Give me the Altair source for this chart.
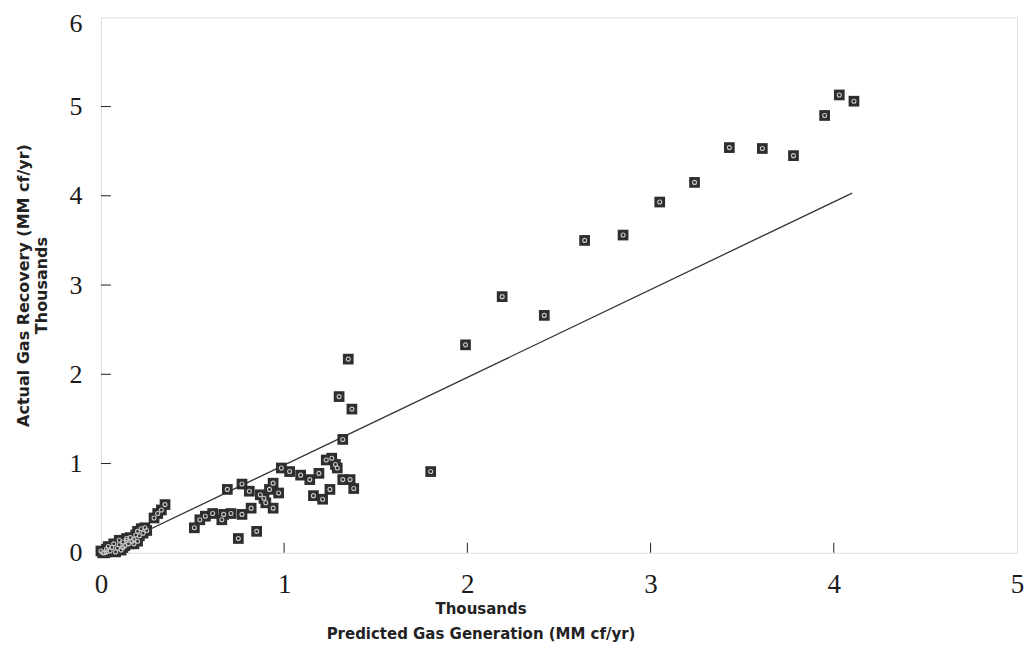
import altair as alt
import pandas as pd

# Predicted gas generation (thousands MM cf/yr) vs actual gas recovery (thousands MM cf/yr)
pred = [
    0.00, 0.02, 0.03, 0.05, 0.06, 0.08, 0.09, 0.10, 0.11, 0.12, 0.13, 0.14, 0.15,
    0.16, 0.17, 0.18, 0.19, 0.20, 0.21, 0.22, 0.23, 0.24, 0.25, 0.04, 0.07, 0.10,
    0.12, 0.14, 0.18, 0.20, 0.01, 0.03,
    0.29, 0.31, 0.33, 0.35,
    0.51, 0.54, 0.57, 0.61, 0.66, 0.67, 0.71, 0.77, 0.82, 0.90, 0.94,
    0.75, 0.85,
    0.69, 0.77, 0.81, 0.87, 0.89, 0.92, 0.94, 0.97,
    0.985, 1.03, 1.09, 1.14, 1.19, 1.23, 1.16, 1.21,
    1.25, 1.26, 1.28, 1.29, 1.32, 1.36, 1.38, 1.32, 1.30, 1.37, 1.35,
    1.80, 1.99, 2.19, 2.42, 2.64, 2.85, 3.05, 3.24, 3.43, 3.61, 3.78, 3.95, 4.03, 4.11,
]
actual = [
    0.02, 0.00, 0.04, 0.02, 0.06, 0.01, 0.05, 0.09, 0.03, 0.12, 0.08, 0.14, 0.10,
    0.17, 0.13, 0.15, 0.20, 0.24, 0.19, 0.27, 0.22, 0.28, 0.25, 0.07, 0.10, 0.14,
    0.06, 0.16, 0.10, 0.13, 0.00, 0.01,
    0.39, 0.44, 0.48, 0.54,
    0.28, 0.37, 0.41, 0.44, 0.37, 0.43, 0.44, 0.43, 0.50, 0.56, 0.50,
    0.16, 0.24,
    0.71, 0.77, 0.69, 0.65, 0.61, 0.71, 0.78, 0.67,
    0.95, 0.91, 0.87, 0.82, 0.89, 1.04, 0.64, 0.60,
    0.71, 1.06, 0.99, 0.95, 0.82, 0.82, 0.72, 1.27, 1.75, 1.61, 2.17,
    0.91, 2.33, 2.87, 2.66, 3.50, 3.56, 3.93, 4.15, 4.54, 4.53, 4.45, 4.90, 5.13, 5.06,
]

fit_x = [0.0, 4.10]
fit_y = [0.0, 4.03]

x_ticks = [0, 1, 2, 3, 4, 5]
y_ticks = [0, 1, 2, 3, 4, 5, 6]
x_inner_ticks = [1, 2, 3, 4]
y_inner_ticks = [1, 2, 3, 4, 5]

W, H = 917, 536

df = pd.DataFrame({"pred": pred, "actual": actual})
fit = pd.DataFrame({"pred": fit_x, "actual": fit_y})
xt = pd.DataFrame({"pred": x_inner_ticks})
yt = pd.DataFrame({"actual": y_inner_ticks})

xs = alt.Scale(domain=[0, 5], nice=False, zero=False)
ys = alt.Scale(domain=[0, 6], nice=False, zero=False)

xaxis = alt.Axis(
    values=x_ticks, ticks=False, domain=False, grid=False,
    labelFont="Liberation Serif", labelFontSize=27, labelColor="#1a1a1a",
    labelPadding=19, labelFlush=False,
    title=["Thousands", "Predicted Gas Generation (MM cf/yr)"],
    titleFont="DejaVu Sans", titleFontSize=15, titleFontWeight="bold",
    titleColor="#222222", titleX=380, titleAlign="center", titlePadding=4,
    titleLineHeight=25,
)
yaxis = alt.Axis(
    values=y_ticks, ticks=False, domain=False, grid=False,
    labelFont="Liberation Serif", labelFontSize=26, labelColor="#1a1a1a",
    labelPadding=19, labelFlush=False,
    labelOffset={"condition": {"test": "datum.value == 6", "value": 6}, "value": 0},
    title=["Actual Gas Recovery (MM cf/yr)", "Thousands"],
    titleFont="DejaVu Sans", titleFontSize=16, titleFontWeight="bold",
    titleColor="#222222", titlePadding=19, titleLineHeight=18,
)

X = alt.X("pred:Q", scale=xs, axis=xaxis)
Y = alt.Y("actual:Q", scale=ys, axis=yaxis)

squares = alt.Chart(df).mark_point(
    shape="square", filled=True, color="#2e2e2e", size=115, opacity=1
).encode(x=X, y=Y)
rings = alt.Chart(df).mark_point(
    shape="circle", filled=False, color="#c8c8c8", size=16, strokeWidth=1.1, opacity=1
).encode(x=X, y=Y)

line = alt.Chart(fit).mark_line(color="#333333", strokeWidth=1.3).encode(x=X, y=Y)

xtick_rules = alt.Chart(xt).mark_rule(color="#222", strokeWidth=1).encode(
    x=X, y=alt.value(H), y2=alt.value(H - 10)
)
ytick_rules = alt.Chart(yt).mark_rule(color="#222", strokeWidth=1).encode(
    y=Y, x=alt.value(0), x2=alt.value(10)
)

chart = alt.layer(line, squares, rings, xtick_rules, ytick_rules).properties(
    width=W, height=H,
    autosize=alt.AutoSizeParams(type="none"),
    padding={"left": 93, "top": 9, "right": 10, "bottom": 94},
).configure_view(stroke="#222", strokeWidth=1.5).configure(background="white")

chart.save("out.html", embed_options={"renderer": "svg", "actions": False})
